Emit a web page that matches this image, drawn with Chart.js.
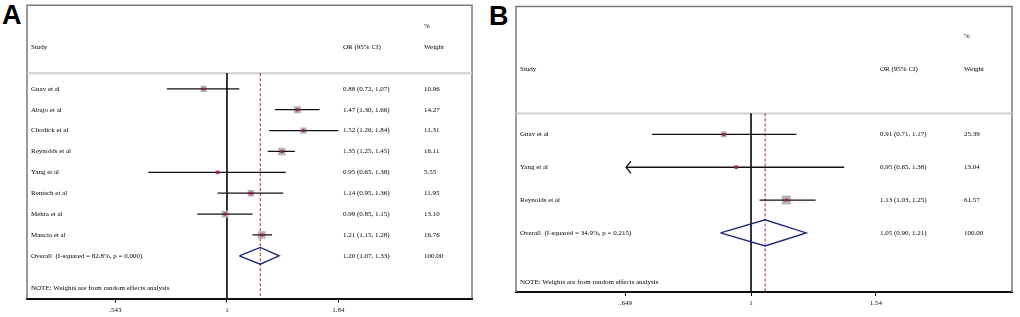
<!DOCTYPE html>
<html>
<head>
<meta charset="utf-8">
<script src="https://cdn.jsdelivr.net/npm/chart.js@4"></script>
<style>
  body { margin: 0; background: #fff; width: 1020px; height: 317px; position: relative; overflow: hidden; }
  canvas { position: absolute; top: 0; }
  .tag { position: absolute; font: bold 27px "Liberation Sans", Arial, sans-serif; color: #000; line-height: 1; }
</style>
</head>
<body>
<div class="tag" style="left:2px; top:2px;">A</div>
<div class="tag" style="left:489px; top:3px;">B</div>
<canvas id="chartA" width="490" height="317" style="left:0"></canvas>
<canvas id="chartB" width="520" height="317" style="left:500px"></canvas>
<script>
// panel A
const studiesA = ["Gnav et al", "Abajo et al", "Chodick et al", "Reynolds et al", "Yang et al",
                  "Rentsch et al", "Mehta et al", "Mancia et al"];
const orA = [0.88, 1.47, 1.52, 1.35, 0.95, 1.14, 0.99, 1.21];
const lowA = [0.72, 1.30, 1.26, 1.25, 0.65, 0.95, 0.85, 1.15];
const highA = [1.07, 1.66, 1.84, 1.45, 1.38, 1.36, 1.15, 1.28];
const weightA = [10.96, 14.27, 11.31, 16.11, 5.55, 11.95, 13.10, 16.76];
const overallA = { label: "Overall  (I-squared = 82.8%, p = 0.000)", or: 1.20, low: 1.07, high: 1.33, weight: 100.00 };
const ticksA = [0.543, 1, 1.84];
const tickLabelsA = [".543", "1", "1.84"];

// panel B
const studiesB = ["Gnav et al", "Yang et al", "Reynolds et al"];
const orB = [0.91, 0.95, 1.13];
const lowB = [0.71, 0.648, 1.03];
const highB = [1.17, 1.38, 1.25];
const weightB = [25.39, 13.04, 61.57];
const overallB = { label: "Overall  (I-squared = 34.9%, p = 0.215)", or: 1.05, low: 0.90, high: 1.21, weight: 100.00 };
const ticksB = [0.649, 1, 1.54];
const tickLabelsB = [".649", "1", "1.54"];

const note = "NOTE: Weights are from random effects analysis";
const textFont = '7px "Liberation Serif", "Times New Roman", serif';

function forestPanel(id, d, lay) {
  const n = d.studies.length;
  const lo = d.ticks[0], hi = d.ticks[d.ticks.length - 1];
  const rows = d.studies.map((s, i) => i);
  const datasets = [];

  // null line at 1 and dashed line at the pooled estimate
  datasets.push({ type: 'line', data: [{ x: 1, y: lay.sepRow }, { x: 1, y: lay.yMax }],
    borderColor: '#1a1a1a', borderWidth: 1, pointRadius: 0, order: 9 });
  datasets.push({ type: 'line', data: [{ x: d.overall.or, y: lay.sepRow }, { x: d.overall.or, y: lay.yMax }],
    borderColor: '#9a2a35', borderWidth: 1, borderDash: [3, 2], pointRadius: 0, order: 8 });

  // weight boxes
  datasets.push({ type: 'scatter', data: rows.map(i => ({ x: d.or[i], y: i })),
    pointStyle: 'rect', backgroundColor: '#b3b3b3', borderWidth: 0,
    pointRadius: rows.map(i => lay.boxK * Math.sqrt(d.weight[i]) / Math.SQRT2), order: 7 });

  // confidence intervals
  rows.forEach(i => {
    datasets.push({ type: 'line', data: [{ x: Math.max(d.low[i], lo), y: i }, { x: Math.min(d.high[i], hi), y: i }],
      borderColor: '#111', borderWidth: 1.3, pointRadius: 0, order: 5 });
  });

  // point estimates
  datasets.push({ type: 'scatter', data: rows.map(i => ({ x: d.or[i], y: i })),
    backgroundColor: '#a3212f', borderWidth: 0, pointRadius: 1.7, order: 2 });

  // pooled diamond
  const o = d.overall, h = 0.4;
  datasets.push({ type: 'line', data: [
      { x: o.low, y: n }, { x: o.or, y: n - h }, { x: o.high, y: n }, { x: o.or, y: n + h }, { x: o.low, y: n }],
    borderColor: '#1f2a7a', borderWidth: 1.4, pointRadius: 0, fill: false, tension: 0, order: 1 });

  const decor = {
    id: 'decor' + id,
    beforeDatasetsDraw(chart) {
      const { ctx, chartArea: a, scales: { y } } = chart;
      ctx.save();
      ctx.strokeStyle = '#7a7a7a';
      ctx.lineWidth = 1.5;
      ctx.beginPath();
      ctx.moveTo(a.left, a.bottom); ctx.lineTo(a.left, a.top);
      ctx.lineTo(a.right, a.top); ctx.lineTo(a.right, a.bottom);
      ctx.stroke();
      ctx.strokeStyle = '#cfcfcf';
      ctx.lineWidth = 2;
      const sy = y.getPixelForValue(lay.sepRow);
      ctx.beginPath(); ctx.moveTo(a.left, sy); ctx.lineTo(a.right, sy); ctx.stroke();
      ctx.restore();
    },
    afterDatasetsDraw(chart) {
      const { ctx, chartArea: a, scales: { x, y } } = chart;
      ctx.save();
      // arrows for intervals running past the axis range
      ctx.strokeStyle = '#111';
      ctx.lineWidth = 1.2;
      rows.forEach(i => {
        const py = y.getPixelForValue(i);
        if (d.low[i] < lo) {
          const px = x.getPixelForValue(lo);
          ctx.beginPath(); ctx.moveTo(px + 5, py - 6); ctx.lineTo(px, py); ctx.lineTo(px + 5, py + 6); ctx.stroke();
        }
        if (d.high[i] > hi) {
          const px = x.getPixelForValue(hi);
          ctx.beginPath(); ctx.moveTo(px - 5, py - 6); ctx.lineTo(px, py); ctx.lineTo(px - 5, py + 6); ctx.stroke();
        }
      });
      ctx.fillStyle = '#000';
      ctx.font = textFont;
      ctx.textBaseline = 'middle';
      const cx0 = a.left + lay.studyX, cx1 = a.left + lay.orX, cx2 = a.left + lay.wX;
      ctx.fillText('Study', cx0, y.getPixelForValue(-2));
      ctx.fillText('OR (95% CI)', cx1, y.getPixelForValue(-2));
      ctx.fillText('%', cx2, y.getPixelForValue(-3));
      ctx.fillText('Weight', cx2, y.getPixelForValue(-2));
      const fmt = (v) => v.toFixed(2);
      rows.forEach(i => {
        const py = y.getPixelForValue(i);
        ctx.fillText(d.studies[i], cx0, py);
        ctx.fillText(`${fmt(d.or[i])} (${fmt(d.low[i])}, ${fmt(d.high[i])})`, cx1, py);
        ctx.fillText(fmt(d.weight[i]), cx2, py);
      });
      const py = y.getPixelForValue(n);
      ctx.fillText(o.label, cx0, py);
      ctx.fillText(`${fmt(o.or)} (${fmt(o.low)}, ${fmt(o.high)})`, cx1, py);
      ctx.fillText(fmt(o.weight), cx2, py);
      ctx.fillText(note, cx0, y.getPixelForValue(lay.noteRow));
      ctx.restore();
    }
  };

  return new Chart(document.getElementById(id), {
    data: { datasets },
    options: {
      responsive: false,
      animation: false,
      devicePixelRatio: 1,
      layout: { padding: lay.padding },
      plugins: { legend: { display: false }, tooltip: { enabled: false } },
      scales: {
        x: {
          type: 'logarithmic',
          bounds: 'data',
          min: lay.xRange[0], max: lay.xRange[1],
          afterBuildTicks: s => { s.ticks = d.ticks.map(v => ({ value: v })); },
          ticks: {
            autoSkip: false, maxRotation: 0, padding: 3, color: '#111',
            font: { family: '"Liberation Serif", "Times New Roman", serif', size: 7 },
            callback: (v, i) => d.tickLabels[i]
          },
          grid: { drawOnChartArea: false, tickLength: 4, color: '#111', tickWidth: 1 },
          border: { color: '#111', width: 2 }
        },
        y: { type: 'linear', display: false, reverse: true, min: lay.yMin, max: lay.yMax }
      }
    },
    plugins: [decor]
  });
}

forestPanel('chartA',
  { studies: studiesA, or: orA, low: lowA, high: highA, weight: weightA, overall: overallA, ticks: ticksA, tickLabels: tickLabelsA },
  { padding: { left: 27, right: 18, top: 4, bottom: 0 }, xRange: [0.335, 3.82], yMin: -4, yMax: 10.05,
    sepRow: -0.75, noteRow: 9.55, boxK: 1.85, studyX: 4, orX: 316, wX: 397 });

forestPanel('chartB',
  { studies: studiesB, or: orB, low: lowB, high: highB, weight: weightB, overall: overallB, ticks: ticksB, tickLabels: tickLabelsB },
  { padding: { left: 16, right: 8, top: 5, bottom: 6.6 }, xRange: [0.4438, 2.465], yMin: -3.9, yMax: 4.8,
    sepRow: -0.64, noteRow: 4.5, boxK: 1.15, studyX: 4, orX: 364, wX: 448 });
</script>
</body>
</html>
